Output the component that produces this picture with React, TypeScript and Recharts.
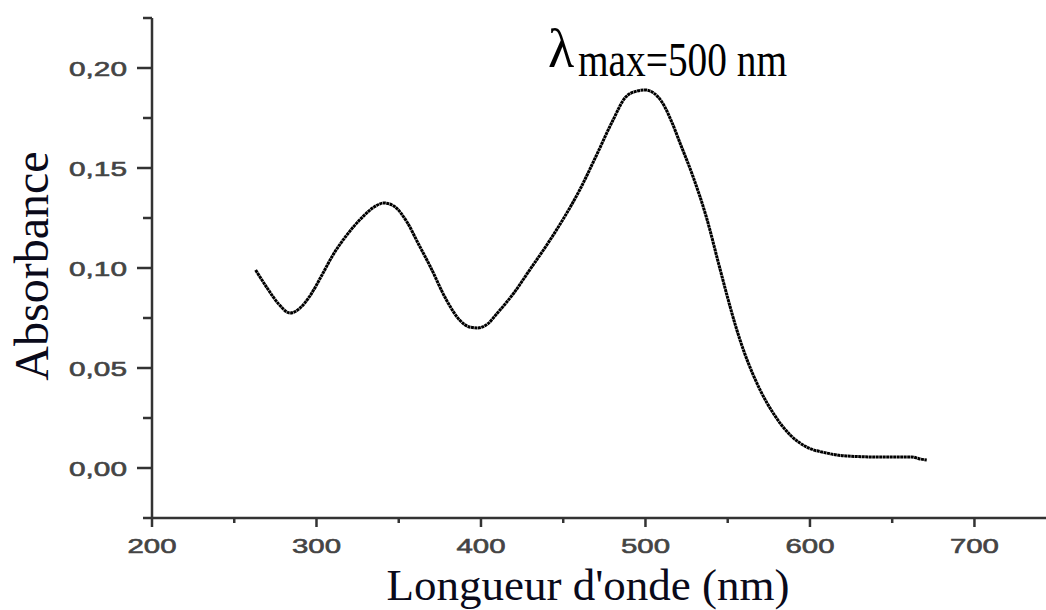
import { LineChart, Line, XAxis, YAxis } from 'recharts'

// wavelength (nm) and absorbance
const wavelengths = [
  263, 270, 277, 284, 290, 296, 303, 310, 318, 328, 335, 341, 347, 355, 362, 369, 379, 387, 393, 398,
  404, 410, 420, 430, 440, 450, 460, 470, 480, 488, 495, 500, 505, 510, 516, 521, 529, 537, 545, 550, 555,
  560, 565, 570, 578, 588, 598, 610, 622, 642, 662, 667, 671,
]
const absorbance = [
  0.099, 0.09, 0.082, 0.0775, 0.08, 0.086, 0.096, 0.1065, 0.116, 0.1255, 0.1305, 0.1325, 0.131, 0.123, 0.112, 0.101, 0.084, 0.074, 0.0705, 0.07,
  0.072, 0.0775, 0.0875, 0.0995, 0.1115, 0.1245, 0.139, 0.156, 0.1735, 0.1855, 0.1885, 0.189, 0.1875, 0.183, 0.173, 0.1625, 0.1455, 0.1255, 0.1005, 0.085, 0.0705,
  0.058, 0.0475, 0.0385, 0.027, 0.0165, 0.0105, 0.0075, 0.006, 0.0055, 0.0055, 0.0045, 0.004,
]

const xTicks = [200, 250, 300, 350, 400, 450, 500, 550, 600, 650, 700]
const xLabels = [200, 300, 400, 500, 600, 700]
const yTicks = [-0.025, 0, 0.025, 0.05, 0.075, 0.1, 0.125, 0.15, 0.175, 0.2, 0.225]
const yLabels = ['0,00', '0,05', '0,10', '0,15', '0,20']

const W = 1046
const H = 610
const AXIS_X = 152
const AXIS_Y = 518
const AXIS_COLOR = '#333'
const TICK_TEXT = '#444'

const data = wavelengths.map((wl, i) => ({ wl, a: absorbance[i] }))

// eslint-disable-next-line @typescript-eslint/no-explicit-any
function XTick({ x, payload }: any) {
  const v = payload.value as number
  const major = xLabels.includes(v)
  return (
    <g>
      <line x1={x} x2={x} y1={AXIS_Y} y2={AXIS_Y + (major ? 9 : 5)} stroke={AXIS_COLOR} strokeWidth={2.5} />
      {major && (
        <text
          transform={`translate(${x},553) scale(1.4,1)`}
          textAnchor="middle"
          fontFamily="'Liberation Sans', Arial, sans-serif"
          fontSize={21}
          fill={TICK_TEXT}
          stroke={TICK_TEXT}
          strokeWidth={0.6}
        >
          {v}
        </text>
      )}
    </g>
  )
}

// eslint-disable-next-line @typescript-eslint/no-explicit-any
function YTick({ y, payload }: any) {
  const v = payload.value as number
  const idx = Math.round(v / 0.05)
  const major = Math.abs(v - idx * 0.05) < 1e-6 && idx >= 0 && idx < yLabels.length
  return (
    <g>
      <line x1={AXIS_X - (major ? 15 : 9)} x2={AXIS_X} y1={y} y2={y} stroke={AXIS_COLOR} strokeWidth={2.5} />
      {major && (
        <text
          transform={`translate(127,${y}) scale(1.42,1)`}
          textAnchor="end"
          dy="0.36em"
          fontFamily="'Liberation Sans', Arial, sans-serif"
          fontSize={21}
          fill={TICK_TEXT}
          stroke={TICK_TEXT}
          strokeWidth={0.6}
        >
          {yLabels[idx]}
        </text>
      )}
    </g>
  )
}

export default function App() {
  return (
    <div style={{ position: 'absolute', left: 0, top: 0, width: W, height: H, background: '#fff' }}>
      <LineChart width={W} height={H} data={data} margin={{ top: 18, right: 0, bottom: 0, left: 0 }}>
        <XAxis
          type="number"
          dataKey="wl"
          domain={[200, 743.5]}
          ticks={xTicks}
          allowDataOverflow
          height={92}
          tickLine={false}
          axisLine={{ stroke: AXIS_COLOR, strokeWidth: 2.5 }}
          tick={<XTick />}
          interval={0}
        />
        <YAxis
          type="number"
          domain={[-0.025, 0.225]}
          ticks={yTicks}
          allowDataOverflow
          width={AXIS_X}
          tickLine={false}
          axisLine={{ stroke: AXIS_COLOR, strokeWidth: 2.5 }}
          tick={<YTick />}
          interval={0}
        />
        <Line
          type="monotone"
          dataKey="a"
          stroke="#000"
          strokeWidth={3}
          strokeDasharray="3 0.5"
          dot={false}
          isAnimationActive={false}
        />
      </LineChart>
      <svg
        width={W}
        height={H}
        style={{ position: 'absolute', left: 0, top: 0, pointerEvents: 'none' }}
        fontFamily="'Liberation Serif', 'Times New Roman', serif"
      >
        <text x={548} y={67} fontSize={54} fill="#000">λ</text>
        <text transform="translate(578,76) scale(0.82,1)" fontSize={48} fill="#000">max=500 nm</text>
        <text x={588} y={600} textAnchor="middle" fontSize={45} fill="#0a0a1a">Longueur d'onde (nm)</text>
        <text
          transform="translate(48,266) rotate(-90)"
          textAnchor="middle"
          fontSize={48}
          fill="#0a0a1a"
        >
          Absorbance
        </text>
      </svg>
    </div>
  )
}
